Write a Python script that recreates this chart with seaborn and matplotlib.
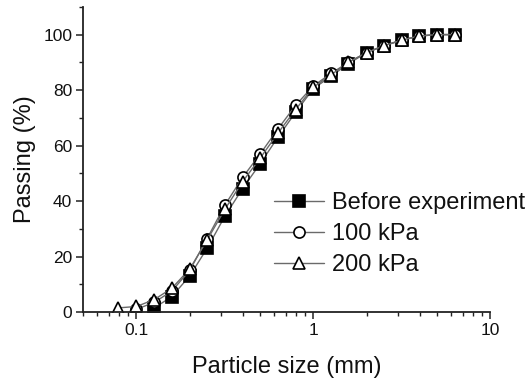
import numpy as np
import pandas as pd
import matplotlib
matplotlib.use("Agg")
import matplotlib.pyplot as plt
import seaborn as sns
from matplotlib.ticker import FixedLocator, FixedFormatter, MultipleLocator, LogLocator, NullFormatter

# ---- data ----
size_200 = [0.079, 0.1, 0.126, 0.158, 0.2, 0.251, 0.316, 0.398, 0.501, 0.631,
            0.794, 1.0, 1.26, 1.58, 2.0, 2.51, 3.16, 3.98, 5.01, 6.31]
pass_200 = [1.5, 2, 4.5, 8.5, 15.5, 26, 37, 47, 55.5, 64.5,
            73, 81, 85.5, 90, 93.5, 96, 98, 99.5, 100, 100]

size_100 = [0.1, 0.126, 0.158, 0.2, 0.251, 0.316, 0.398, 0.501, 0.631,
            0.794, 1.0, 1.26, 1.58, 2.0, 2.51, 3.16, 3.98, 5.01, 6.31]
pass_100 = [1, 3.5, 7.5, 15, 26.5, 38.5, 48.5, 57, 66,
            74.5, 81.5, 86, 90, 93.5, 96, 98, 99.5, 100, 100]

size_before = [0.126, 0.158, 0.2, 0.251, 0.316, 0.398, 0.501, 0.631,
               0.794, 1.0, 1.26, 1.58, 2.0, 2.51, 3.16, 3.98, 5.01, 6.31]
pass_before = [1.5, 5.5, 13, 23, 34.5, 44.5, 53.5, 63,
               72, 80.5, 85, 89.5, 93.5, 96, 98, 99.5, 100, 100]

labels = ["Before experiment", "100 kPa", "200 kPa"]
xticks = [0.1, 1, 10]
xticklabels = ["0.1", "1", "10"]
yticks = [0, 20, 40, 60, 80, 100]

sns.set_style("ticks")
plt.rcParams['font.family'] = ['Liberation Sans', 'DejaVu Sans']

fig = plt.figure(figsize=(5.27, 3.81), dpi=100)
ax = fig.add_axes([0.158, 0.181, 0.772, 0.801])

line_col = "#6a6a6a"
common = dict(color=line_col, linewidth=1.0, markersize=8, markeredgewidth=1.2,
              markeredgecolor="black", ax=ax)

df_b = pd.DataFrame({"size": size_before, "passing": pass_before})
df_1 = pd.DataFrame({"size": size_100, "passing": pass_100})
df_2 = pd.DataFrame({"size": size_200, "passing": pass_200})

sns.lineplot(data=df_b, x="size", y="passing", marker="s", markerfacecolor="black",
             label=labels[0], **common)
sns.lineplot(data=df_1, x="size", y="passing", marker="o", markerfacecolor="white",
             label=labels[1], **common)
sns.lineplot(data=df_2, x="size", y="passing", marker="^", markerfacecolor="white",
             label=labels[2], **common)

ax.set_xscale("log")
ax.set_xlim(0.05, 10)
ax.set_ylim(0, 110)
ax.xaxis.set_major_locator(FixedLocator(xticks))
ax.xaxis.set_major_formatter(FixedFormatter(xticklabels))
ax.xaxis.set_minor_locator(LogLocator(base=10, subs=np.arange(2, 10)))
ax.xaxis.set_minor_formatter(NullFormatter())
ax.yaxis.set_major_locator(FixedLocator(yticks))
ax.yaxis.set_minor_locator(MultipleLocator(10))

for s in ["top", "right"]:
    ax.spines[s].set_visible(False)
for s in ["left", "bottom"]:
    ax.spines[s].set_color("#222222")
    ax.spines[s].set_linewidth(1.3)

ax.tick_params(which="major", direction="out", length=5, width=1.1, color="#222222",
               labelsize=12.5, pad=3, labelcolor="#111111")
ax.tick_params(which="minor", direction="out", length=3, width=1.0, color="#222222")

ax.set_xlabel("Particle size (mm)", fontsize=17, labelpad=12.5, color="#111111")
ax.set_ylabel("Passing (%)", fontsize=17, labelpad=5, color="#111111")

handles, lbls = ax.get_legend_handles_labels()
leg = ax.legend(handles, lbls, loc="upper left", bbox_to_anchor=(0.52, 0.495),
                bbox_transform=fig.transFigure, frameon=False, fontsize=17,
                handlelength=2.1, handletextpad=0.35, labelspacing=0.37,
                borderaxespad=0, borderpad=0)
for t in leg.get_texts():
    t.set_color("#111111")

fig.savefig("out.png", dpi=100)
